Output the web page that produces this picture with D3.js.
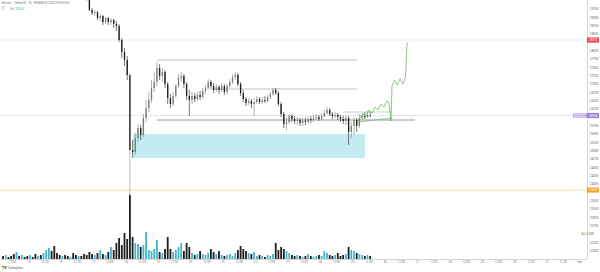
<!DOCTYPE html>
<html><head><meta charset="utf-8">
<script src="https://cdn.jsdelivr.net/npm/d3@7"></script>
<style>html,body{margin:0;padding:0;background:#fff;overflow:hidden}</style>
</head><body><svg id="c" width="600" height="272"></svg>
<script>
// ---------- data (2h bars, index 0..136) ----------
const openP = [
31650,31580,31640,31520,31450,31400,31470,31300,31350,31260,
31180,31230,31120,31050,31090,30980,31040,31110,31180,31020,
30800,30680,30600,30640,30520,30440,30480,30360,30280,30320,
30100,29900,29560,29220,29130,29160,28980,29040,28860,28980,
28860,28920,28800,28740,28320,27960,27720,27270,25020,24960,
25380,25680,25470,25980,26280,26520,26880,27060,27480,27240,
27360,27000,26580,26400,26640,26940,27180,27240,27000,26640,
26520,26640,26550,26670,26610,26790,26880,27060,26940,26820,
26910,26820,26940,26760,26940,27060,27210,27270,27000,26730,
26550,26430,26490,26400,26460,26550,26460,26520,26490,26610,
26700,26820,26730,26400,26100,25800,25860,26040,25950,25890,
25920,25830,25890,25860,25950,25920,25980,26010,25950,26040,
26130,26220,26100,26040,26070,26010,25950,25890,25980,25560,
25740,25920,25740,25980,26040,26010,26070];
const closeP = [
31580,31640,31520,31450,31400,31470,31300,31350,31260,31180,
31230,31120,31050,31090,30980,31040,31110,31180,31020,30800,
30680,30600,30640,30520,30440,30480,30360,30280,30320,30100,
29900,29560,29220,29130,29160,28980,29040,28860,28980,28860,
28920,28800,28740,28320,27960,27720,27270,25020,24960,25380,
25680,25470,25980,26280,26520,26880,27060,27480,27240,27360,
27000,26580,26400,26640,26940,27180,27240,27000,26640,26520,
26640,26550,26670,26610,26790,26880,27060,26940,26820,26910,
26820,26940,26760,26940,27060,27210,27270,27000,26730,26550,
26430,26490,26400,26460,26550,26460,26520,26490,26610,26700,
26820,26730,26400,26100,25800,25860,26040,25950,25890,25920,
25830,25890,25860,25950,25920,25980,26010,25950,26040,26130,
26220,26100,26040,26070,26010,25950,25890,25980,25560,25740,
25920,25740,25980,26040,26010,26070,26055];
const highP = [
31720,31690,31670,31560,31490,31510,31490,31390,31380,31300,
31270,31250,31160,31130,31110,31080,31150,31220,31200,31050,
30820,30720,30690,30660,30560,30520,30500,30400,30360,30340,
30140,29950,29600,29280,29220,29190,29100,29070,29010,29010,
28980,28950,28890,28800,28380,28080,27840,27330,25320,25530,
25800,25770,26100,26520,26760,27120,27360,27660,27600,27480,
27420,27060,26700,26760,27000,27300,27360,27300,27060,26820,
26760,26730,26760,26790,26880,26970,27150,27120,27030,27000,
26970,27030,27000,27000,27150,27300,27360,27330,27060,26820,
26610,26580,26550,26580,26640,26610,26610,26640,26670,26760,
26880,26880,26790,26460,26160,25980,26100,26100,26040,26010,
25980,25980,25980,26010,26040,26070,26100,26070,26130,26220,
26310,26280,26160,26160,26130,26070,26040,26070,26040,25860,
26010,25980,26100,26130,26160,26190,26160];
const lowP = [
31530,31540,31480,31400,31350,31360,31260,31270,31220,31140,
31150,31080,31000,31010,30940,30950,31000,31060,30980,30750,
30640,30560,30570,30480,30400,30410,30320,30240,30250,30060,
29860,29500,29190,29070,29040,28920,28890,28770,28800,28770,
28770,28680,28590,28260,27780,27540,27120,23640,24780,24870,
25260,25320,25410,25860,26160,26430,26760,26940,27120,27060,
26880,26400,26280,26340,26580,26880,27060,26880,26520,26040,
26400,26460,26490,26520,26550,26700,26820,26850,26730,26760,
26700,26760,26670,26700,26880,27000,27120,26940,26640,26460,
26340,26370,26280,26040,26400,26400,26400,26430,26430,26550,
26640,26670,26340,26010,25680,25620,25800,25860,25800,25770,
25740,25740,25770,25800,25830,25860,25920,25890,25920,25980,
26070,26040,25950,25980,25920,25860,25800,25770,25170,25380,
25470,25560,25680,25920,25950,25980,26010];
const volume = [
300,400,200,300,500,700,300,400,200,300,
400,200,500,300,400,600,900,1100,800,1300,
600,400,300,400,300,200,600,400,300,300,
500,400,700,500,400,600,900,500,400,700,
1200,900,1600,2100,1400,2600,2000,6400,2200,1600,
1500,1200,1400,2700,900,800,1000,1900,700,600,
1000,2200,1000,700,900,1200,1600,800,1600,1200,
600,400,500,800,500,400,600,1000,700,500,
800,400,300,400,500,300,600,900,1300,1000,
800,600,500,700,300,400,300,200,400,300,
500,1600,900,1200,1000,800,600,400,300,400,
300,200,300,500,300,200,300,400,300,800,
600,400,300,400,600,300,400,500,1200,900,
800,600,500,400,300,400,300];

const priceTicks = [29250,29000,28750,28500,28000,27750,27500,27250,27000,26750,26500,26250,
  25750,25500,25250,25000,24750,24500,24250,24000,23500,23250,23000,22750,22250,22000];
const timeTickIdx = [];   // positions in bar units (every 12h = 6 bars)
const timeTickLabels = ["12:00","15","12:00","16","12:00","17","12:00","18","12:00","19","12:00","20",
  "12:00","21","12:00","22","12:00","23","12:00","24","12:00","25","12:00","26","12:00","27",
  "12:00","28","12:00","29","12:00","30","12:00","31","12:00","Sep"];
timeTickLabels.forEach((_, k) => timeTickIdx.push(3.33 + 6 * k));

// marked prices
const alertPrice = 28320, lastPrice = 26055, supportPrice = 23820;
// drawings (bar index, price)
const zoneIdx = [48.15, 134.07], zonePrice = [25500, 24780];
const levelPrice = [27720, 26850, 25920];
const levelFrom = [57.04, 77.4, 57.04];
const levelTo = [131.1, 131.1, 152.6];
const projIdx = [132.2,133.33,134.44,135.56,136.67,137.78,138.89,140.0,141.11,142.22,142.96,143.7,144.07,145.0,145.93,147.04,148.15,149.07,149.63,150.0];
const projPrice = [25980,26100,26040,26220,26130,26310,26220,26400,26310,26490,26430,25890,26940,27120,26970,27150,27000,27210,28200,28260];
const boxTopIdx = [125.9, 144.1], boxTopPrice = 26160;
const slopeIdx = [131.5, 144.1], slopePrice = [25860, 25980];

// ---------- drawing ----------
const W = 600, H = 272, PR = 587, PB = 259;
const svg = d3.select("#c");
const F = "Roboto, 'Liberation Sans', sans-serif";
const x = d3.scaleLinear().domain([-1.1111, 216.2963]).range([0, PR]);
const y = d3.scaleLinear().domain([21750, 29520]).range([PB, 0]);
const yv = d3.scaleLinear().domain([0, 10000]).range([PB, PB - 100]);

svg.append("defs").append("clipPath").attr("id", "clip")
  .append("rect").attr("x", 0).attr("y", 0).attr("width", PR).attr("height", PB);
const plot = svg.append("g").attr("clip-path", "url(#clip)");

// full-width horizontal lines
plot.append("line").attr("x1", 0).attr("x2", PR).attr("y1", y(alertPrice)).attr("y2", y(alertPrice))
  .attr("stroke", "#c8c8c8").attr("stroke-width", 0.6).attr("stroke-dasharray", "1.5,1");
plot.append("line").attr("x1", 0).attr("x2", PR).attr("y1", y(lastPrice)).attr("y2", y(lastPrice))
  .attr("stroke", "#c3b3e6").attr("stroke-width", 0.6).attr("stroke-dasharray", "1.5,1");
plot.append("line").attr("x1", 0).attr("x2", PR).attr("y1", y(supportPrice)).attr("y2", y(supportPrice))
  .attr("stroke", "#f3dc90").attr("stroke-width", 0.8);

// zone
plot.append("rect").attr("x", x(zoneIdx[0])).attr("width", x(zoneIdx[1]) - x(zoneIdx[0]))
  .attr("y", y(zonePrice[0])).attr("height", y(zonePrice[1]) - y(zonePrice[0]))
  .attr("fill", "#c2ecf2");

// volume
const idx = d3.range(openP.length);
plot.selectAll(".v").data(idx).join("rect")
  .attr("x", i => x(i) - 0.9).attr("width", 1.8)
  .attr("y", i => yv(volume[i])).attr("height", i => PB - yv(volume[i]))
  .attr("fill", i => closeP[i] >= openP[i] ? "#45b6c9" : "#1e1e1e");

// levels
levelPrice.forEach((p, k) => {
  plot.append("line").attr("x1", x(levelFrom[k])).attr("x2", x(levelTo[k]))
    .attr("y1", y(p)).attr("y2", y(p))
    .attr("stroke", k === 2 ? "#555" : "#9a9a9a").attr("stroke-width", 0.6);
});

// candles
const up = "#7a7a7a", dn = "#1c1c1c";
plot.selectAll(".w").data(idx).join("line")
  .attr("x1", i => x(i)).attr("x2", i => x(i))
  .attr("y1", i => y(highP[i])).attr("y2", i => y(lowP[i]))
  .attr("stroke", i => i === 47 ? "#888" : (closeP[i] >= openP[i] ? up : dn)).attr("stroke-width", 0.6);
plot.selectAll(".b").data(idx).join("rect")
  .attr("x", i => x(i) - 0.65).attr("width", 1.3)
  .attr("y", i => y(Math.max(openP[i], closeP[i])))
  .attr("height", i => Math.max(0.6, Math.abs(y(openP[i]) - y(closeP[i]))))
  .attr("fill", i => closeP[i] >= openP[i] ? up : dn);

// projection drawings
plot.append("line").attr("x1", x(boxTopIdx[0])).attr("x2", x(boxTopIdx[1]))
  .attr("y1", y(boxTopPrice)).attr("y2", y(boxTopPrice)).attr("stroke", "#8fbf8a").attr("stroke-width", 0.6);
plot.append("line").attr("x1", x(slopeIdx[0])).attr("x2", x(slopeIdx[1]))
  .attr("y1", y(slopePrice[0])).attr("y2", y(slopePrice[1])).attr("stroke", "#5aa84f").attr("stroke-width", 0.6);
plot.append("path")
  .attr("d", d3.line().x((d, k) => x(projIdx[k])).y((d, k) => y(projPrice[k]))(projIdx))
  .attr("fill", "none").attr("stroke", "#5cae52").attr("stroke-width", 0.7);

// price axis
const ay = svg.append("g").attr("transform", `translate(${PR},0)`)
  .call(d3.axisRight(y).tickValues(priceTicks).tickSize(0).tickPadding(3).tickFormat(d3.format("d")));
ay.select(".domain").attr("stroke", "#b8b8b8").attr("stroke-width", 0.6).attr("d", `M0.5,0V${PB}`);
ay.selectAll("text").attr("font-size", 3).attr("font-family", F).attr("fill", "#666");

// time axis
const ax = svg.append("g").attr("transform", `translate(0,${PB})`)
  .call(d3.axisBottom(x).tickValues(timeTickIdx).tickSize(0).tickPadding(2.2)
    .tickFormat((d, k) => timeTickLabels[k]));
ax.select(".domain").attr("stroke", "#b8b8b8").attr("stroke-width", 0.6).attr("d", `M0,0.5H${PR}`);
ax.selectAll("text").attr("font-size", 3).attr("font-family", F).attr("fill", "#777");

// price labels on axis
function tag(p, fill, txt) {
  svg.append("rect").attr("x", PR).attr("y", y(p) - 2.6).attr("width", 12).attr("height", 5.2).attr("fill", fill);
  svg.append("text").attr("x", PR + 2).attr("y", y(p) + 1.1).attr("font-size", 3).attr("font-family", F)
    .attr("fill", "#fff").text(txt);
}
svg.append("rect").attr("x", PR - 14).attr("y", y(lastPrice) - 2.2).attr("width", 14).attr("height", 4.4).attr("fill", "#b9a6e3");
svg.append("text").attr("x", PR - 13).attr("y", y(lastPrice) + 1).attr("font-size", 2.6).attr("font-family", F)
  .attr("fill", "#fff").text("BTCUSDT");
tag(alertPrice, "#f0424f", d3.format("d")(alertPrice));
tag(lastPrice, "#9a80d6", d3.format("d")(lastPrice));
tag(supportPrice, "#f8a11b", d3.format("d")(supportPrice));

// volume readout on axis
svg.append("text").attr("x", 581).attr("y", 235).attr("font-size", 3).attr("font-family", F)
  .attr("fill", "#555").text("Vol 2.35K");

// legend
svg.append("text").attr("x", 2).attr("y", 4).attr("font-size", 3).attr("font-family", F).attr("fill", "#777")
  .text("Bitcoin / TetherUS · 2h · BINANCE  O26070 H26160");
svg.append("rect").attr("x", 2).attr("y", 6.5).attr("width", 2.5).attr("height", 3).attr("fill", "none")
  .attr("stroke", "#999").attr("stroke-width", 0.4);
svg.append("text").attr("x", 10).attr("y", 9.5).attr("font-size", 3).attr("font-family", F).attr("fill", "#888").text("Vol");
svg.append("text").attr("x", 15.5).attr("y", 9.5).attr("font-size", 3).attr("font-family", F).attr("fill", "#37b09a").text("300.41");

// logo
svg.append("text").attr("x", 2).attr("y", 268.5).attr("font-size", 3.5).attr("font-family", F)
  .attr("font-weight", "bold").attr("fill", "#222").text("TV");
svg.append("text").attr("x", 7.5).attr("y", 268.5).attr("font-size", 2.8).attr("font-family", F)
  .attr("fill", "#555").text("TradingView");
</script></body></html>
